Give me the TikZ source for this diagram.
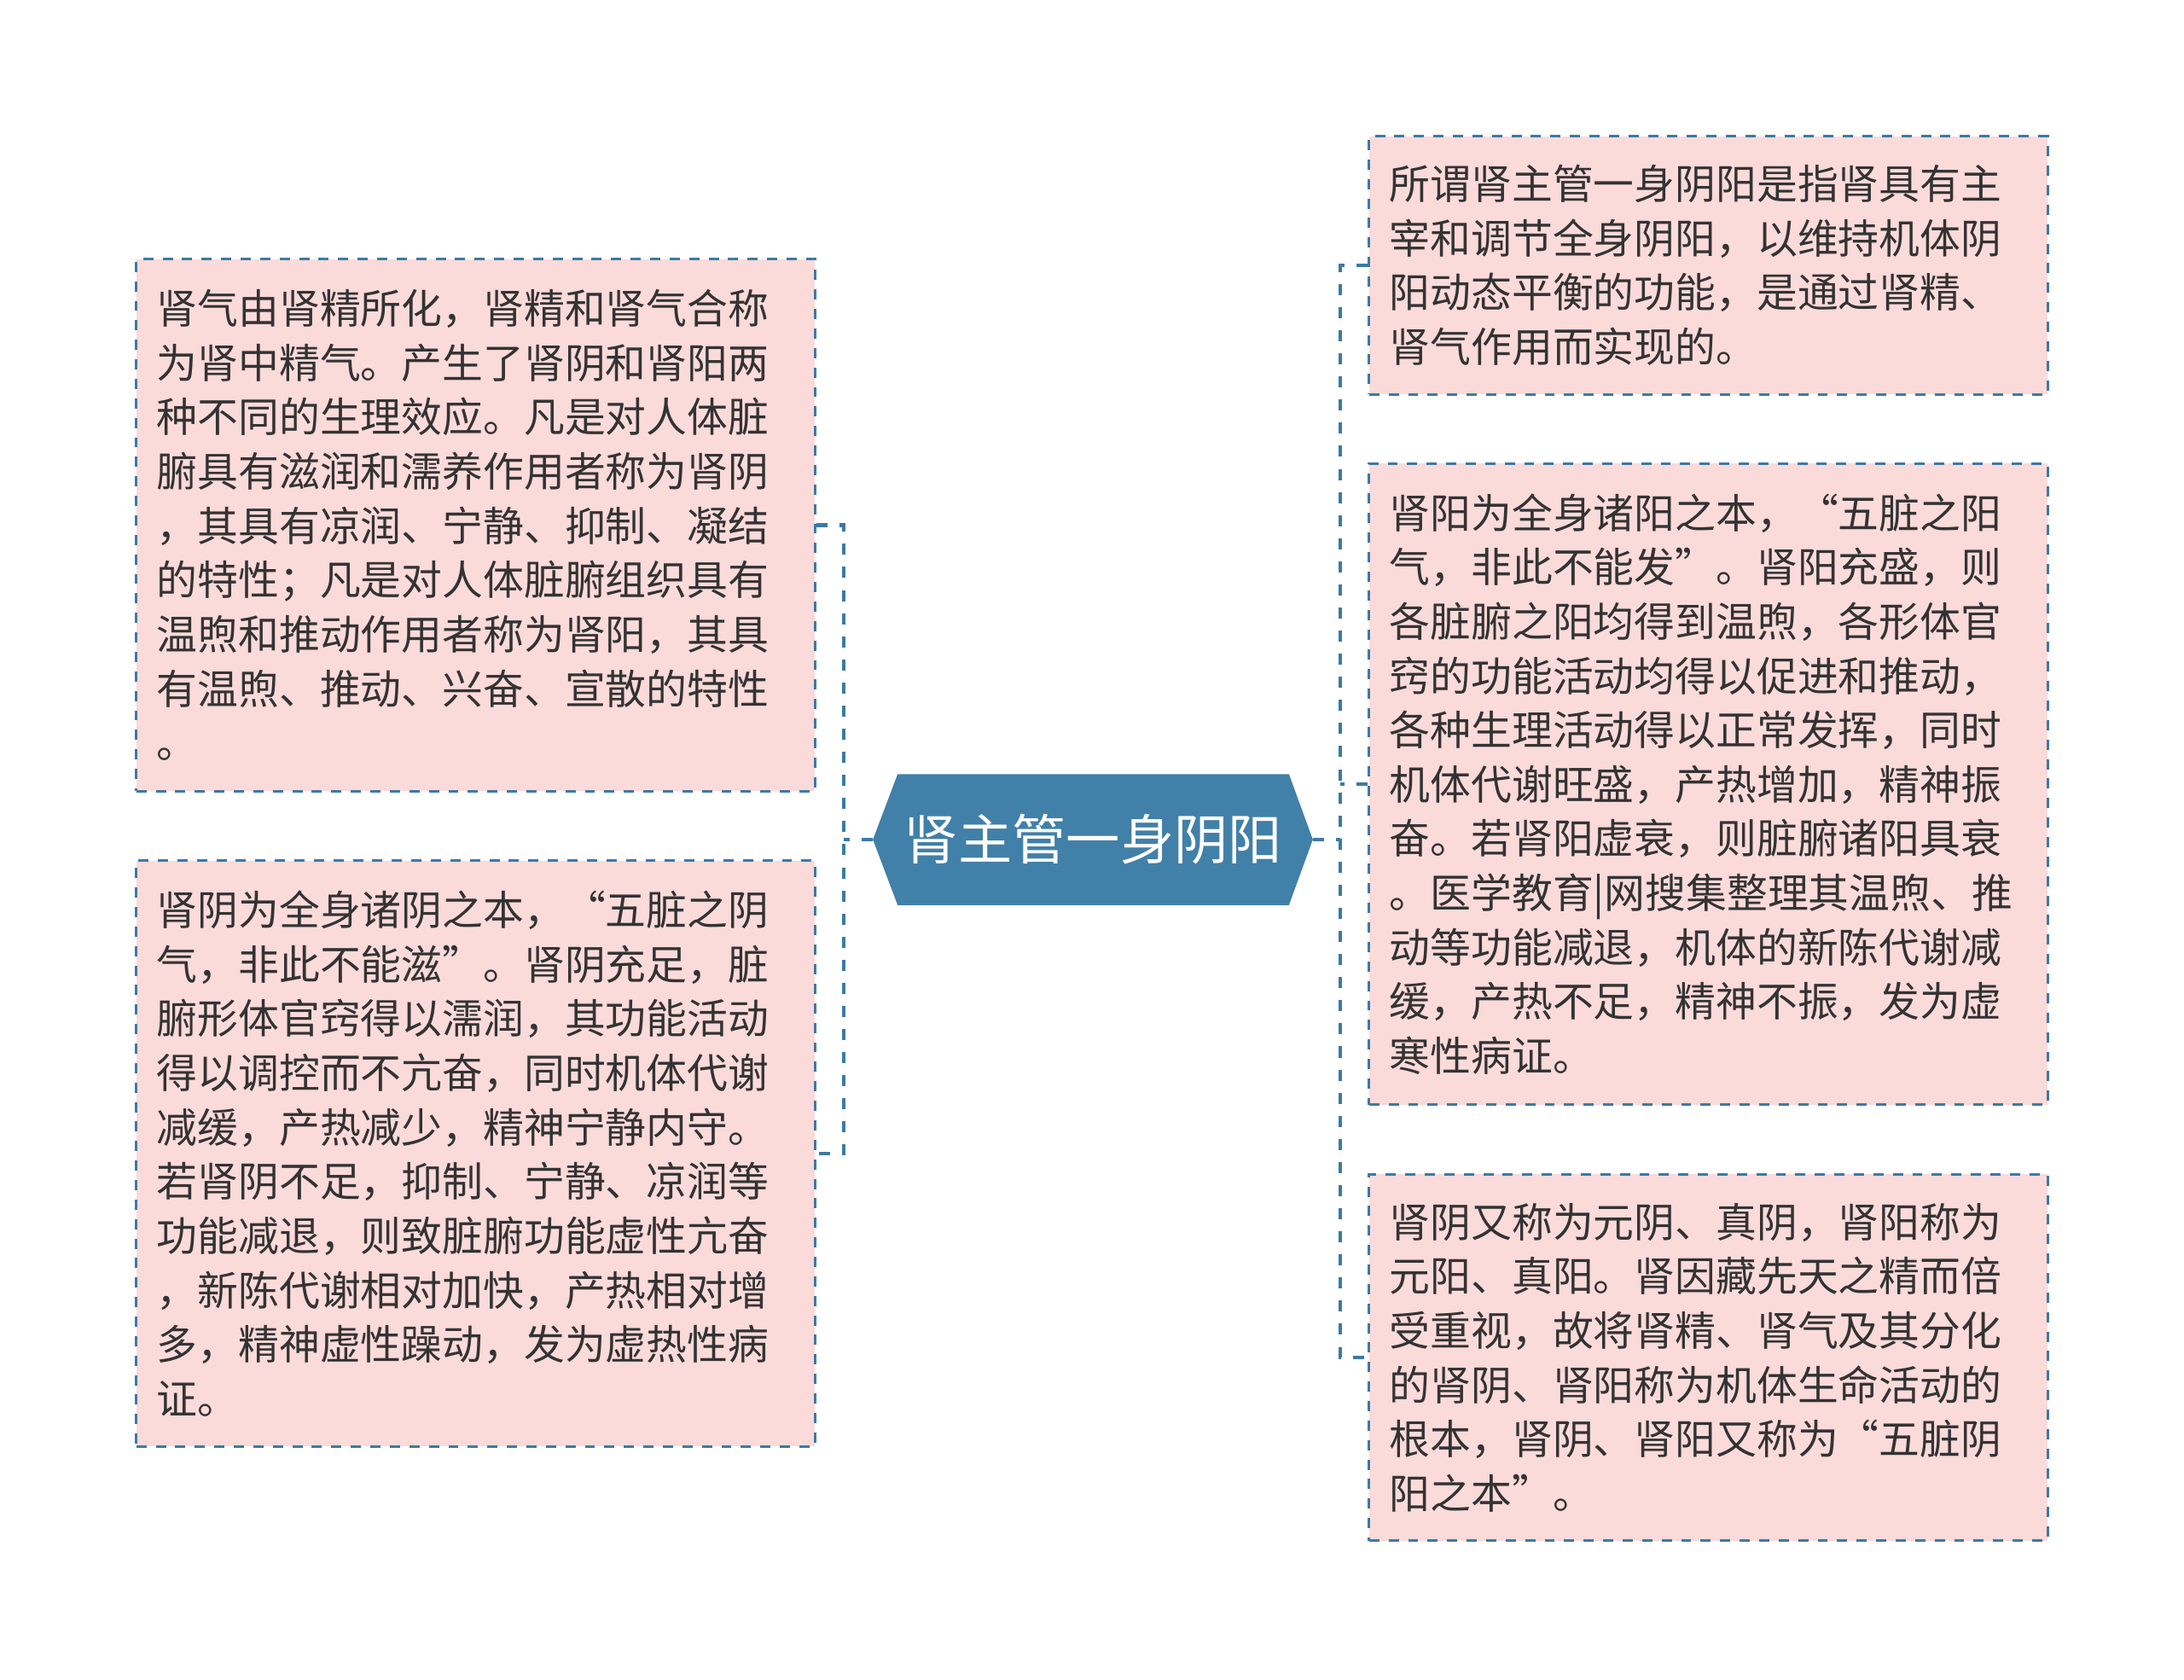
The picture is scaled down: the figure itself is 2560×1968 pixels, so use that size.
\documentclass[tikz,border=0pt]{standalone}
\usepackage{fontspec}
\setmainfont{Noto Sans CJK SC}
\usepackage{tikz}
\usetikzlibrary{calc, backgrounds}

\definecolor{leaffill}{HTML}{FBDADA}
\definecolor{linkblue}{HTML}{3C7AA3}
\definecolor{rootblue}{HTML}{4180A8}
\definecolor{txtgray}{HTML}{333333}

\tikzset{
    leafbox/.style={draw=linkblue, fill=leaffill, line width=0.85pt,
        dash pattern=on 3.4pt off 3.1pt, text=txtgray,
        font=\fontsize{13.6pt}{18.1pt}\selectfont,
        minimum width=7.95cm, inner xsep=0.24cm, text width=7.47cm, align=left},
    link/.style={draw=linkblue, line width=1.4pt, dash pattern=on 3.7pt off 4pt},
}

\begin{document}
\begin{tikzpicture}[x=0.01cm, y=-0.01cm]
        \useasboundingbox (0,0) rectangle (2560,1968);

        % 中心主题
        \node[minimum width=4.57cm, minimum height=1.52cm, inner sep=0pt, text=white,
              font=\fontsize{18pt}{22pt}\selectfont] (root) at (1281.5,984) {肾主管一身阴阳};
        \coordinate (rootL) at ($(root.west)+(-29,0)$);
        \coordinate (rootR) at ($(root.east)+(28,0)$);
        \begin{scope}[on background layer]
            \fill[rootblue] (root.north west) -- (root.north east) -- (rootR) -- (root.south east)
                -- (root.south west) -- (rootL) -- cycle;
        \end{scope}

        % 左侧分支
        \node[leafbox, minimum height=6.23cm] (yinyangA) at (557.5,615.5) {
            肾气由肾精所化，肾精和肾气合称\\
            为肾中精气。产生了肾阴和肾阳两\\
            种不同的生理效应。凡是对人体脏\\
            腑具有滋润和濡养作用者称为肾阴\\
            ，其具有凉润、宁静、抑制、凝结\\
            的特性；凡是对人体脏腑组织具有\\
            温煦和推动作用者称为肾阳，其具\\
            有温煦、推动、兴奋、宣散的特性\\
            。};
        \node[leafbox, minimum height=6.86cm] (shenyin) at (557.5,1352) {
            肾阴为全身诸阴之本，“五脏之阴\\
            气，非此不能滋”。肾阴充足，脏\\
            腑形体官窍得以濡润，其功能活动\\
            得以调控而不亢奋，同时机体代谢\\
            减缓，产热减少，精神宁静内守。\\
            若肾阴不足，抑制、宁静、凉润等\\
            功能减退，则致脏腑功能虚性亢奋\\
            ，新陈代谢相对加快，产热相对增\\
            多，精神虚性躁动，发为虚热性病\\
            证。};

        % 右侧分支
        \node[leafbox, minimum height=3.02cm] (suowei) at (2002.5,311) {
            所谓肾主管一身阴阳是指肾具有主\\
            宰和调节全身阴阳，以维持机体阴\\
            阳动态平衡的功能，是通过肾精、\\
            肾气作用而实现的。};
        \node[leafbox, minimum height=7.51cm] (shenyang) at (2002.5,919) {
            肾阳为全身诸阳之本，“五脏之阳\\
            气，非此不能发”。肾阳充盛，则\\
            各脏腑之阳均得到温煦，各形体官\\
            窍的功能活动均得以促进和推动，\\
            各种生理活动得以正常发挥，同时\\
            机体代谢旺盛，产热增加，精神振\\
            奋。若肾阳虚衰，则脏腑诸阳具衰\\
            。医学教育|网搜集整理其温煦、推\\
            动等功能减退，机体的新陈代谢减\\
            缓，产热不足，精神不振，发为虚\\
            寒性病证。};
        \node[leafbox, minimum height=4.29cm] (yuanyin) at (2002.5,1591) {
            肾阴又称为元阴、真阴，肾阳称为\\
            元阳、真阳。肾因藏先天之精而倍\\
            受重视，故将肾精、肾气及其分化\\
            的肾阴、肾阳称为机体生命活动的\\
            根本，肾阴、肾阳又称为“五脏阴\\
            阳之本”。};

        % 连线
        \coordinate (lbus) at (989,984);
        \coordinate (rbus) at (1571,984);
        \draw[link] (yinyangA.east) -| (lbus) |- (shenyin.east);
        \draw[link] (rootL) -- (lbus);
        \draw[link] (suowei.west) -| (rbus) |- (yuanyin.west);
        \draw[link] (shenyang.west) -- (shenyang.west -| rbus);
        \draw[link] (rootR) -- (rbus);
    \end{tikzpicture}
\end{document}
